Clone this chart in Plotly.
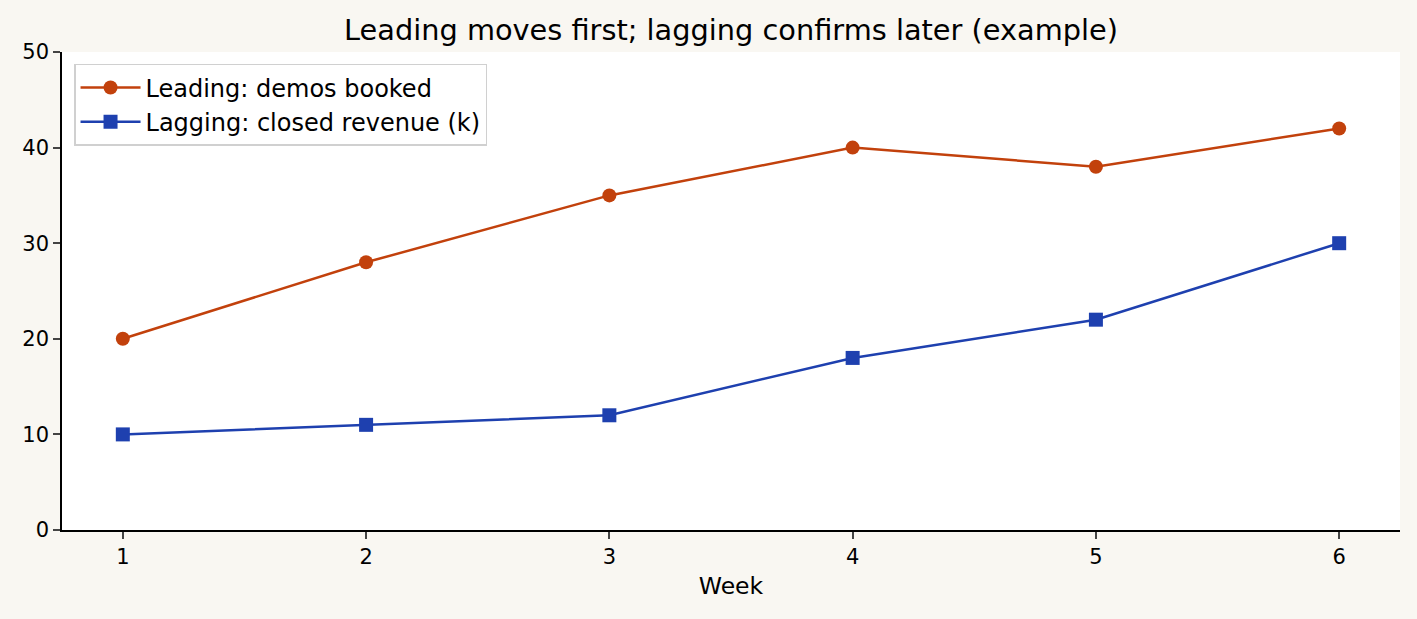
import plotly.graph_objects as go

weeks = [1, 2, 3, 4, 5, 6]
leading = [20, 28, 35, 40, 38, 42]
lagging = [10, 11, 12, 18, 22, 30]

orange = "#c2410c"
blue = "#1e40af"

fig = go.Figure()
fig.add_trace(go.Scatter(x=weeks, y=leading, mode="lines+markers", name="Leading: demos booked",
                         line=dict(color=orange, width=2.5), marker=dict(symbol="circle", size=14, color=orange)))
fig.add_trace(go.Scatter(x=weeks, y=lagging, mode="lines+markers", name="Lagging: closed revenue (k)",
                         line=dict(color=blue, width=2.5), marker=dict(symbol="square", size=14, color=blue)))

fig.update_layout(
    width=1417, height=619,
    paper_bgcolor="#f9f7f2", plot_bgcolor="white",
    font=dict(family="DejaVu Sans", size=21, color="black"),
    margin=dict(l=62, r=17, t=52, b=89),
    title=dict(text="Leading moves first; lagging confirms later (example)", x=0.5, xref="paper",
               y=0.952, yanchor="middle", font=dict(size=28.8)),
    legend=dict(x=0.009, y=0.975, xanchor="left", yanchor="top", bgcolor="white",
                bordercolor="#d0d0d0", borderwidth=1.5, font=dict(size=24), itemwidth=60),
    xaxis=dict(range=[0.75, 6.25], tickvals=weeks, showgrid=False, zeroline=False, showline=True,
               linecolor="black", linewidth=1.5, ticks="outside", ticklen=7, tickwidth=1.5,
               title=dict(text="Week", standoff=10, font=dict(size=23.5))),
    yaxis=dict(range=[0, 50], dtick=10, showgrid=False, zeroline=False, showline=True,
               linecolor="black", linewidth=1.5, ticks="outside", ticklen=7, tickwidth=1.5),
)

fig.write_html("out.html", config={"displayModeBar": False},
               post_script="document.body.style.margin='0';")
